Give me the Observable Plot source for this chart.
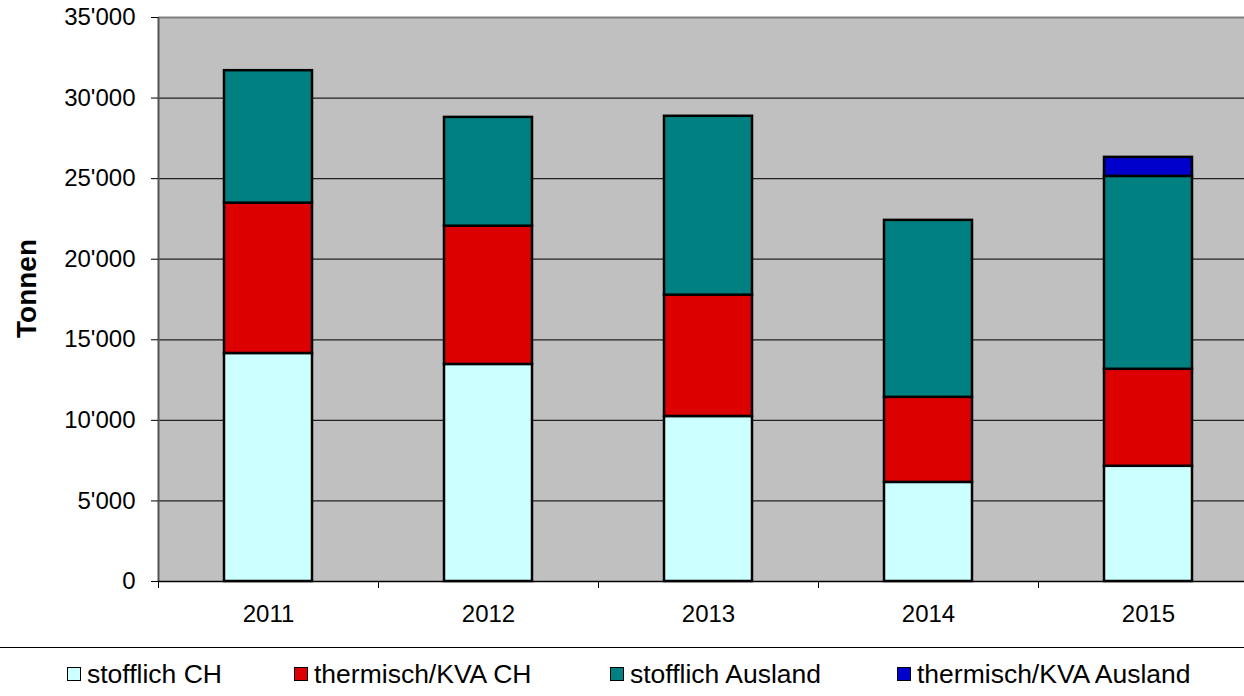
<!DOCTYPE html>
<html>
<head>
<meta charset="utf-8">
<script src="https://cdn.jsdelivr.net/npm/d3@7"></script>
<script src="https://cdn.jsdelivr.net/npm/@observablehq/plot@0.6"></script>
<style>
  html, body { margin: 0; padding: 0; background: #fff; }
  body { width: 1244px; height: 696px; overflow: hidden; font-family: "Liberation Sans", Arial, sans-serif; }
  #wrap { position: relative; width: 1244px; height: 696px; overflow: hidden; }
  #chart { position: absolute; left: 0; top: 0; width: 1258px; }
  #chart svg { max-width: none !important; }
  #sep { position: absolute; left: 0; top: 647px; width: 1244px; height: 0; border-top: 1.5px solid #000; }
  .item { position: absolute; top: 659px; height: 30px; line-height: 30px; display: flex; align-items: center; font-size: 26.5px; color: #000; white-space: nowrap; }
  .sw { width: 12px; height: 12px; border: 1.5px solid #000; margin-right: 6px; box-sizing: content-box; flex: none; }
</style>
</head>
<body>
<div id="wrap">
  <div id="chart"></div>
  <div id="sep"></div>
  <div id="legend"></div>
</div>
<script>
const years = ["2011", "2012", "2013", "2014", "2015"];
const seriesNames = ["stofflich CH", "thermisch/KVA CH", "stofflich Ausland", "thermisch/KVA Ausland"];
const seriesColors = ["#CCFFFF", "#DD0000", "#008080", "#0000CC"];
const stofflichCH = [14150, 13470, 10240, 6150, 7150];
const thermischCH = [9330, 8580, 7530, 5280, 6020];
const stofflichAusland = [8220, 6750, 11100, 10980, 11970];
const thermischAusland = [0, 0, 0, 0, 1180];
const yTicks = [0, 5000, 10000, 15000, 20000, 25000, 30000, 35000];
const legendLeft = [67, 294, 610, 897];

const seriesValues = [stofflichCH, thermischCH, stofflichAusland, thermischAusland];
const rows = [];
years.forEach((y, i) => {
  seriesNames.forEach((s, k) => {
    if (seriesValues[k][i] > 0) rows.push({year: y, i, series: s, value: seriesValues[k][i]});
  });
});

const fmt = d3.formatLocale({decimal: ".", thousands: "'", grouping: [3], currency: ["", ""]}).format(",");

const chart = Plot.plot({
  width: 1258,
  height: 630,
  marginLeft: 158,
  marginRight: 0,
  marginTop: 17,
  marginBottom: 49,
  style: {fontFamily: "Liberation Sans, Arial, sans-serif", fontSize: "24px", color: "#000", background: "transparent", maxWidth: "none"},
  x: {type: "linear", domain: [0, years.length], axis: null},
  y: {domain: [0, 35000], axis: null},
  color: {domain: seriesNames, range: seriesColors},
  marks: [
    Plot.frame({fill: "#C0C0C0", stroke: null}),
    Plot.ruleY(yTicks.slice(1), {stroke: "#222", strokeWidth: 1.2}),
    Plot.ruleY([35000], {stroke: "#808080", strokeWidth: 2}),
    Plot.rectY(rows, Plot.stackY({
      x1: "i", x2: d => d.i + 1, y: "value", fill: "series",
      order: seriesNames, insetLeft: 66, insetRight: 66,
      stroke: "#000", strokeWidth: 2.5
    })),
    Plot.ruleX([0], {stroke: "#555", strokeWidth: 2}),
    Plot.ruleY([0], {stroke: "#000", strokeWidth: 1.5}),
    Plot.axisY({ticks: yTicks, tickFormat: fmt, tickSize: 7, tickPadding: 16, label: null, fontSize: 24, stroke: "#000"}),
    Plot.axisX({ticks: d3.range(0, years.length + 1), tickFormat: () => "", tickSize: 7, label: null, stroke: "#000"}),
    Plot.text(years, {x: (d, i) => i + 0.5, y: 0, text: d => d, dy: 33, fontSize: 24, fill: "#000"}),
    Plot.text(["Tonnen"], {frameAnchor: "left", textAnchor: "middle", dx: -131, dy: -11, rotate: -90, fontWeight: "bold", fontSize: 28, fill: "#000"})
  ]
});
document.getElementById("chart").appendChild(chart);

const legend = document.getElementById("legend");
seriesNames.forEach((s, k) => {
  const item = document.createElement("div");
  item.className = "item";
  item.style.left = legendLeft[k] + "px";
  const sw = document.createElement("div");
  sw.className = "sw";
  sw.style.background = seriesColors[k];
  const label = document.createElement("span");
  label.textContent = s;
  item.appendChild(sw);
  item.appendChild(label);
  legend.appendChild(item);
});
</script>
</body>
</html>
